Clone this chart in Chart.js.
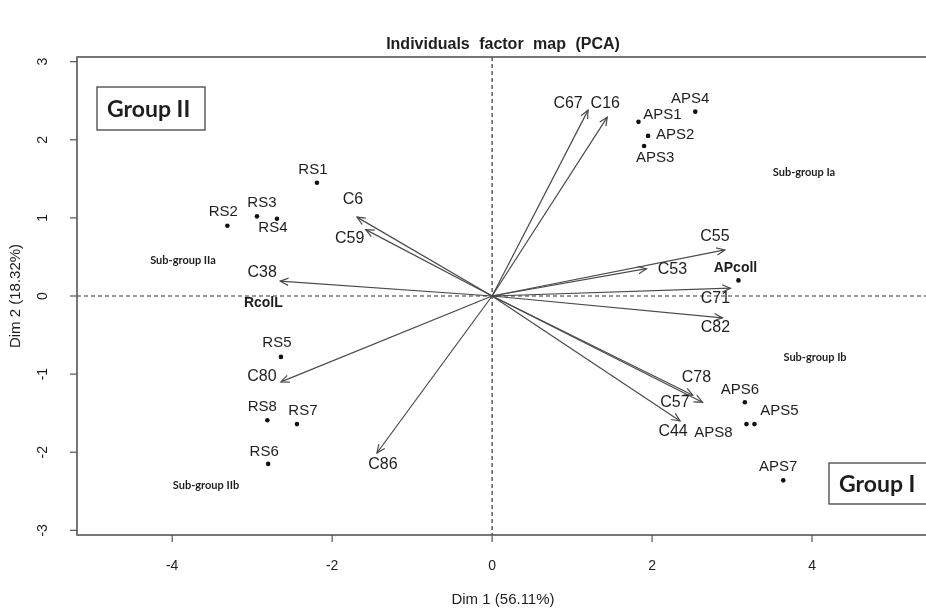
<!DOCTYPE html>
<html>
<head>
<meta charset="utf-8">
<title>Individuals factor map (PCA)</title>
<script src="https://cdn.jsdelivr.net/npm/chart.js@4.4.1/dist/chart.umd.min.js"></script>
<style>
  html, body { margin: 0; padding: 0; background: #fff; overflow: hidden; }
  #wrap { width: 926px; height: 612px; overflow: hidden; }
</style>
</head>
<body>
<div id="wrap"><canvas id="pca" width="960" height="612"></canvas></div>
<script>
// individuos (coordenadas Dim 1 / Dim 2)
const indNames = ['APS1', 'APS2', 'APS3', 'APS4', 'APcoll', 'APS5', 'APS6', 'APS7', 'APS8',
                  'RS1', 'RS2', 'RS3', 'RS4', 'RcolL', 'RS5', 'RS6', 'RS7', 'RS8'];
const indX = [1.83, 1.95, 1.90, 2.54, 3.08, 3.28, 3.16, 3.64, 3.18,
              -2.19, -3.31, -2.94, -2.69, -2.86, -2.64, -2.80, -2.44, -2.81];
const indY = [2.23, 2.05, 1.92, 2.36, 0.20, -1.64, -1.36, -2.36, -1.64,
              1.45, 0.90, 1.02, 0.99, -0.24, -0.78, -2.15, -1.64, -1.59];
// variables (puntas de flecha)
const varNames = ['C6', 'C16', 'C38', 'C44', 'C53', 'C55', 'C57', 'C59', 'C67', 'C71', 'C78', 'C80', 'C82', 'C86'];
const varX = [-1.69, 1.44, -2.65, 2.35, 1.93, 2.91, 2.51, -1.58, 1.20, 2.98, 2.63, -2.64, 2.88, -1.44];
const varY = [1.01, 2.29, 0.19, -1.60, 0.35, 0.59, -1.27, 0.85, 2.38, 0.10, -1.36, -1.10, -0.28, -2.01];
// ejes
const xTicks = [-4, -2, 0, 2, 4];
const yTicks = [-3, -2, -1, 0, 1, 2, 3];
const titulo = 'Individuals factor map (PCA)';
const tituloX = 'Dim 1 (56.11%)';
const tituloY = 'Dim 2 (18.32%)';
const grupos = ['Group II', 'Group I'];
const subgrupos = ['Sub-group Ia', 'Sub-group Ib', 'Sub-group IIa', 'Sub-group IIb'];

// desplazamiento de etiquetas en px respecto al punto / punta
const indNudge = [[24, -7], [27, -1], [11, 12], [-5, -13], [-3, -12], [25, -13], [-5, -12], [-5, -13], [-33, 9],
                  [-4, -13], [-4, -14], [5, -13], [-4, 9], [0, -12], [-4, -14], [-4, -12], [6, -13], [-5, -13]];
const varNudge = [[-4, -18], [-2, -14], [-18, -9], [-7, 11], [26, 1], [-10, -13], [-18, 7], [-16, 9],
                  [-20, -7], [-15, 10], [-6, -25], [-19, -5], [-7, 10], [6, 12]];
const negritas = ['APcoll', 'RcolL'];
const colorTexto = '#1e1e1e';
const colorFlecha = '#4a4a4a';
const centroTitulos = 503; // centro de la region de dibujo

const ejesYTextos = {
  id: 'ejesYTextos',
  beforeDatasetsDraw(chart) {
    const { ctx, chartArea: a, scales: { x, y } } = chart;
    const x0 = x.getPixelForValue(0), y0 = y.getPixelForValue(0);
    ctx.save();
    // lineas de referencia en cero
    ctx.strokeStyle = '#333';
    ctx.lineWidth = 1.2;
    ctx.setLineDash([4, 3]);
    ctx.beginPath();
    ctx.moveTo(x0, a.top); ctx.lineTo(x0, a.bottom);
    ctx.moveTo(a.left, y0); ctx.lineTo(a.right, y0);
    ctx.stroke();
    ctx.setLineDash([]);

    // caja del grafico
    ctx.strokeStyle = '#555';
    ctx.lineWidth = 1.6;
    ctx.strokeRect(a.left, a.top, a.right - a.left, a.bottom - a.top);

    // marcas y etiquetas de los ejes
    ctx.lineWidth = 1.2;
    ctx.fillStyle = colorTexto;
    ctx.font = '14px "Liberation Sans", Arial, sans-serif';
    ctx.textAlign = 'center';
    ctx.textBaseline = 'middle';
    xTicks.forEach(v => {
      const px = x.getPixelForValue(v);
      ctx.beginPath(); ctx.moveTo(px, a.bottom); ctx.lineTo(px, a.bottom + 7); ctx.stroke();
      ctx.fillText(v < 0 ? '-' + Math.abs(v) : String(v), px, a.bottom + 31);
    });
    yTicks.forEach(v => {
      const py = y.getPixelForValue(v);
      ctx.beginPath(); ctx.moveTo(a.left, py); ctx.lineTo(a.left - 7, py); ctx.stroke();
      ctx.save();
      ctx.translate(a.left - 34, py);
      ctx.rotate(-Math.PI / 2);
      ctx.fillText(v < 0 ? '-' + Math.abs(v) : String(v), 0, 0);
      ctx.restore();
    });

    // titulos
    ctx.font = '15px "Liberation Sans", Arial, sans-serif';
    ctx.fillText(tituloX, centroTitulos, 600);
    ctx.save();
    ctx.translate(16, y0);
    ctx.rotate(-Math.PI / 2);
    ctx.fillText(tituloY, 0, 0);
    ctx.restore();
    ctx.font = 'bold 16px "Liberation Sans", Arial, sans-serif';
    ctx.wordSpacing = '5px';
    ctx.fillText(titulo, centroTitulos, 45);
    ctx.restore();
  },
  afterDatasetsDraw(chart) {
    const { ctx } = chart;
    ctx.save();
    // puntas de flecha
    ctx.strokeStyle = colorFlecha;
    ctx.lineWidth = 1.2;
    varNames.forEach((n, i) => {
      const pts = chart.getDatasetMeta(i + 1).data;
      const ox = pts[0].x, oy = pts[0].y, tx = pts[1].x, ty = pts[1].y;
      const ang = Math.atan2(ty - oy, tx - ox);
      const L = 9, w = 0.42;
      ctx.beginPath();
      ctx.moveTo(tx - L * Math.cos(ang - w), ty - L * Math.sin(ang - w));
      ctx.lineTo(tx, ty);
      ctx.lineTo(tx - L * Math.cos(ang + w), ty - L * Math.sin(ang + w));
      ctx.stroke();
    });

    ctx.fillStyle = colorTexto;
    ctx.textAlign = 'center';
    ctx.textBaseline = 'middle';
    // etiquetas de variables
    ctx.font = '16px "Liberation Sans", Arial, sans-serif';
    varNames.forEach((n, i) => {
      const p = chart.getDatasetMeta(i + 1).data[1];
      ctx.fillText(n, p.x + varNudge[i][0], p.y + varNudge[i][1]);
    });
    // etiquetas de individuos
    const puntos = chart.getDatasetMeta(0).data;
    indNames.forEach((n, i) => {
      ctx.font = negritas.includes(n)
        ? 'bold 14px "Liberation Sans", Arial, sans-serif'
        : '15px "Liberation Sans", Arial, sans-serif';
      ctx.fillText(n, puntos[i].x + indNudge[i][0], puntos[i].y + indNudge[i][1]);
    });

    // grupos
    ctx.font = 'bold 23px Lato, "Open Sans", sans-serif';
    ctx.strokeStyle = '#444';
    ctx.lineWidth = 1.3;
    [[97, 87, 108, 43], [829, 463, 130, 41]].forEach((r, i) => {
      ctx.fillStyle = '#fff';
      ctx.fillRect(r[0], r[1], r[2], r[3]);
      ctx.strokeRect(r[0], r[1], r[2], r[3]);
      ctx.fillStyle = colorTexto;
      ctx.textAlign = 'left';
      ctx.fillText(grupos[i], r[0] + 10, r[1] + r[3] / 2 + 1);
    });
    // subgrupos
    ctx.font = 'bold 11px Lato, "Open Sans", sans-serif';
    ctx.textAlign = 'center';
    [[804, 172], [815, 357], [183, 260], [206, 485]].forEach((p, i) => {
      ctx.fillText(subgrupos[i], p[0], p[1]);
    });
    ctx.restore();
  }
};

const flechas = varNames.map((n, i) => ({
  type: 'line',
  label: n,
  data: [{ x: 0, y: 0 }, { x: varX[i], y: varY[i] }],
  borderColor: colorFlecha,
  borderWidth: 1.2,
  pointRadius: 0,
  fill: false
}));

new Chart(document.getElementById('pca').getContext('2d'), {
  type: 'scatter',
  data: {
    datasets: [{
      label: 'Individuos',
      data: indX.map((v, i) => ({ x: v, y: indY[i] })),
      backgroundColor: '#111',
      borderWidth: 0,
      pointRadius: indNames.map(n => n === 'RcolL' ? 0 : 2.3)
    }, ...flechas]
  },
  options: {
    responsive: false,
    animation: false,
    layout: { padding: { left: 77, top: 57, right: 10, bottom: 77 } },
    plugins: { legend: { display: false }, tooltip: { enabled: false } },
    scales: {
      x: { type: 'linear', display: false, min: -5.19, max: 5.725 },
      y: { type: 'linear', display: false, min: -3.06, max: 3.06 }
    }
  },
  plugins: [ejesYTextos]
});
</script>
</body>
</html>
